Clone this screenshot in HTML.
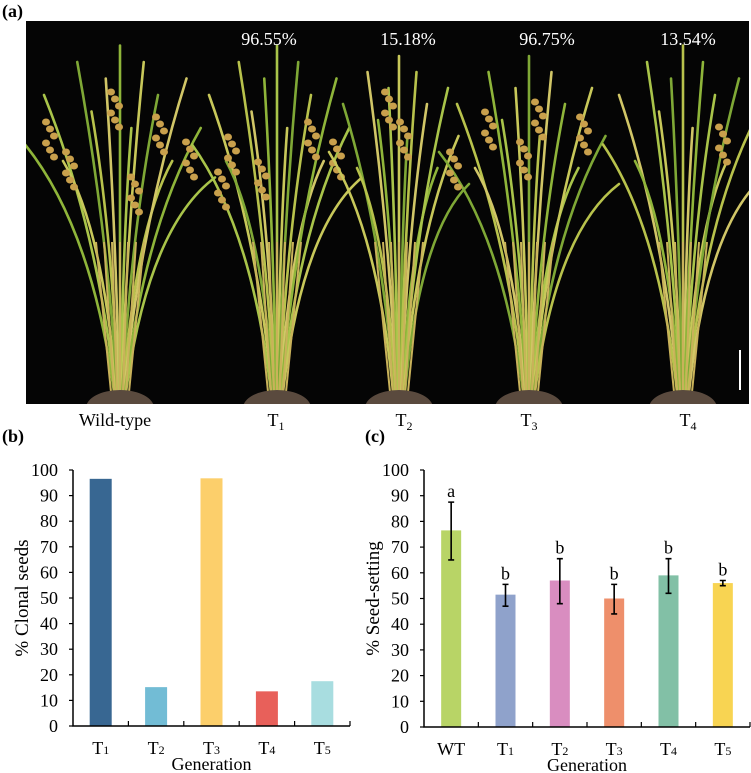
<!DOCTYPE html>
<html><head><meta charset="utf-8">
<style>
html,body{margin:0;padding:0;background:#fff;}
body{width:751px;height:773px;position:relative;overflow:hidden;font-family:"Liberation Serif",serif;}
svg{position:absolute;left:0;top:0;}
text{font-family:"Liberation Serif",serif;}
</style></head>
<body>
<svg id="fig" width="751" height="773" viewBox="0 0 751 773" xmlns="http://www.w3.org/2000/svg">
  <defs><clipPath id="photoClip"><rect x="26" y="21" width="723" height="383"/></clipPath></defs>
  <text x="2" y="17" font-size="18" font-weight="bold">(a)</text>
  <g id="photo" clip-path="url(#photoClip)">
    <rect x="26" y="21" width="723" height="383" fill="#050505"/>
  </g>
  <g font-size="18" fill="#fff" text-anchor="middle">
    <text x="269" y="45">96.55%</text>
    <text x="408" y="45">15.18%</text>
    <text x="547" y="45">96.75%</text>
    <text x="688" y="45">13.54%</text>
  </g>
  <rect x="739" y="350" width="2" height="40" fill="#fff"/>
  <g font-size="18" text-anchor="middle" fill="#000">
    <text x="115" y="426">Wild-type</text>
    <text x="276" y="426">T<tspan font-size="12" dy="4">1</tspan></text>
    <text x="404" y="426">T<tspan font-size="12" dy="4">2</tspan></text>
    <text x="529" y="426">T<tspan font-size="12" dy="4">3</tspan></text>
    <text x="688" y="426">T<tspan font-size="12" dy="4">4</tspan></text>
  </g>
  <text x="2" y="442" font-size="18" font-weight="bold">(b)</text>
  <text x="365" y="442" font-size="18" font-weight="bold">(c)</text>
  <g id="chartB"></g>
  <g id="chartC"></g>
</svg>
<script>
// Chart (b) data
const catsB = ["1","2","3","4","5"];
const valsB = [96.55, 15.18, 96.75, 13.54, 17.5];
const colorsB = ["#386792","#72bcd5","#fccf6b","#e8605a","#a8dde0"];
// Chart (c) data
const catsC = ["WT","1","2","3","4","5"];
const valsC = [76.5, 51.5, 57, 50, 59, 56];
const errLowC = [65, 47, 48, 44, 52, 55];
const errHighC = [87.5, 55.5, 65.5, 55.5, 65.5, 57];
const lettersC = ["a","b","b","b","b","b"];
const colorsC = ["#b8d466","#8fa2cb","#d98dc0","#ee8f6b","#82c0a6","#f8d452"];
const yTicks = [0,10,20,30,40,50,60,70,80,90,100];

const NS = "http://www.w3.org/2000/svg";
function mk(tag, attrs, parent){
  const e = document.createElementNS(NS, tag);
  for (const k in attrs) e.setAttribute(k, attrs[k]);
  parent.appendChild(e);
  return e;
}

// --- decorative plants ---
const photo = document.getElementById('photo');
const plants = [
  {x:120, h:330, spread:95, pan:[[-70,-270],[-50,-240],[-5,-300],[40,-275],[70,-250],[15,-215]]},
  {x:277, h:330, spread:85, pan:[[-45,-255],[-15,-230],[35,-270],[60,-250],[-55,-220]]},
  {x:399, h:320, spread:70, pan:[[-10,-300],[5,-270]]},
  {x:529, h:320, spread:90, pan:[[-40,-280],[-75,-240],[10,-290],[55,-275],[-5,-250]]},
  {x:683, h:330, spread:80, pan:[[40,-265]]}
];
const leafOffsets = [-1,-0.8,-0.6,-0.45,-0.3,-0.15,0,0.12,0.25,0.4,0.55,0.7,0.85,1];
const leafHeights = [0.75,0.9,0.7,1.0,0.85,0.95,1.05,0.8,1.0,0.9,0.7,0.95,0.8,0.65];
const leafColors = ["#8fb53a","#a9c44a","#c8c85a","#7fa836","#b8c24c","#d1c667"];
plants.forEach((p, pi) => {
  const base = 392;
  leafOffsets.forEach((o, i) => {
    const tx = p.x + o * p.spread;
    const ty = base - p.h * leafHeights[i];
    const path = mk('path', {d:`M${p.x + o*6} ${base} Q${p.x + o*p.spread*0.3} ${base - p.h*0.5} ${tx} ${ty}`,
      fill:'none', stroke:leafColors[(i+pi)%leafColors.length], 'stroke-width':2.6, 'stroke-linecap':'round'}, photo);
    
    
  });
  for (let s = -3; s <= 3; s++) {
    mk('line', {x1:p.x + s*3, y1:base, x2:p.x + s*8, y2:base-150, stroke:'#c9b25a', 'stroke-width':2}, photo);
  }
  p.pan.forEach(pt => {
    const px = p.x + pt[0], py = base + pt[1];
    for (let k = 0; k < 6; k++) {
      mk('ellipse', {cx:px + (k%3-1)*4, cy:py + k*7, rx:4, ry:3.5, fill:'#c9a04c'}, photo);
    }
  });
  mk('ellipse', {cx:p.x, cy:base+16, rx:34, ry:18, fill:'#5a4a3e'}, photo);
});

// --- bar charts ---
function drawChart(g, cats, vals, colors, x0, x1, y0, yTop, barW, title, opts){
  const sy = v => y0 - (v/100)*(y0 - yTop);
  const n = cats.length, step = (x1 - x0)/n;
  const sx = i => x0 + step*(i+0.5);
  vals.forEach((v, i) => {
    const r = mk('rect', {x:sx(i)-barW/2, y:sy(v), width:barW, height:y0 - sy(v), fill:colors[i]}, g);
    
    
  });
  if (opts) {
    vals.forEach((v, i) => {
      const e = mk('path', {d:`M${sx(i)} ${sy(opts.lo[i])}V${sy(opts.hi[i])}M${sx(i)-3} ${sy(opts.lo[i])}h6M${sx(i)-3} ${sy(opts.hi[i])}h6`,
        stroke:'#000', 'stroke-width':1.6, fill:'none'}, g);
      
      
      const t = mk('text', {x:sx(i), y:sy(opts.hi[i]) - 5, 'font-size':18, 'text-anchor':'middle'}, g);
      t.textContent = opts.letters[i];
      
      
    });
  }
  const ax = mk('path', {d:`M${x0} ${yTop}V${y0}H${x1}`, stroke:'#000', 'stroke-width':1.5, fill:'none'}, g);
  
  
  yTicks.forEach(t => {
    mk('line', {x1:x0-4, y1:sy(t), x2:x0, y2:sy(t), stroke:'#000', 'stroke-width':1.2}, g);
    const l = mk('text', {x:x0-15, y:sy(t)+6, 'font-size':18, 'text-anchor':'end'}, g);
    l.textContent = t;
    
    
  });
  for (let i = 1; i <= n; i++) mk('line', {x1:x0+step*i, y1:y0, x2:x0+step*i, y2:y0-5, stroke:'#000', 'stroke-width':1.2}, g);
  cats.forEach((c, i) => {
    const l = mk('text', {x:sx(i), y:y0+28, 'font-size':18, 'text-anchor':'middle'}, g);
    
    
    if (c === 'WT') l.textContent = 'WT';
    else { l.textContent = 'T'; const ts = mk('tspan', {'font-size':12}, l); ts.textContent = c; }
  });
  const xt = mk('text', {x:(x0+x1)/2, y:y0+44, 'font-size':18, 'text-anchor':'middle'}, g);
  xt.textContent = 'Generation';
  
  
  const cy = (y0+yTop)/2;
  const yt = mk('text', {x:x0-45, y:cy, 'font-size':19, 'text-anchor':'middle', transform:`rotate(-90 ${x0-45} ${cy})`}, g);
  yt.textContent = title;
  
  
}
drawChart(document.getElementById('chartB'), catsB, valsB, colorsB, 73, 350, 726, 470, 22, '% Clonal seeds');
drawChart(document.getElementById('chartC'), catsC, valsC, colorsC, 424, 750, 727, 470, 20, '% Seed-setting',
  {lo:errLowC, hi:errHighC, letters:lettersC});
</script>
</body></html>
